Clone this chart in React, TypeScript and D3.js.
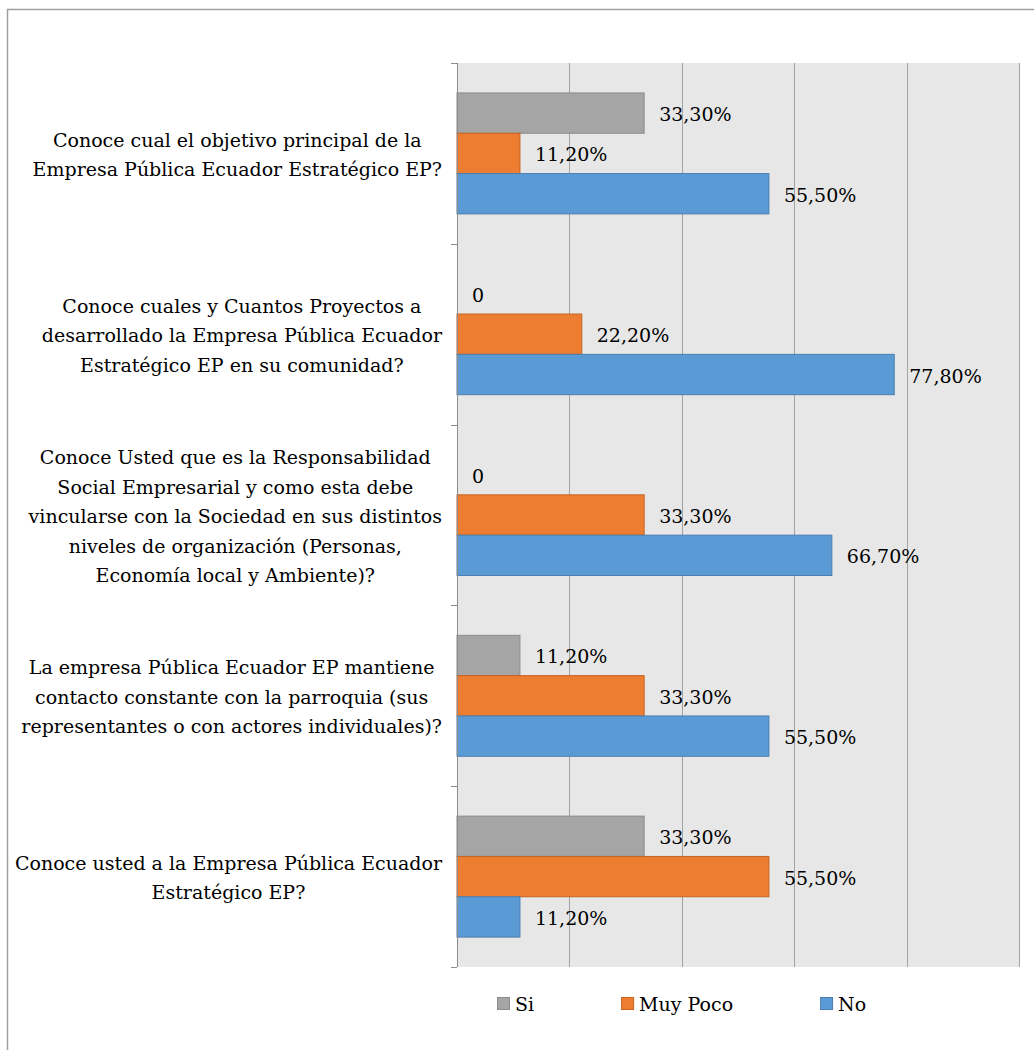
import React, { useEffect, useRef } from 'react';
import * as d3 from 'd3';

const categories = [
  'Conoce cual el objetivo principal de la\nEmpresa Pública Ecuador Estratégico EP?',
  'Conoce cuales y Cuantos Proyectos a\ndesarrollado la Empresa Pública Ecuador\nEstratégico EP en su comunidad?',
  'Conoce Usted que es la Responsabilidad\nSocial Empresarial y como esta debe\nvincularse con la Sociedad en sus distintos\nniveles de organización (Personas,\nEconomía local y Ambiente)?',
  'La empresa Pública Ecuador EP mantiene\ncontacto constante con la parroquia (sus\nrepresentantes o con actores individuales)?',
  'Conoce usted a la Empresa Pública Ecuador\nEstratégico EP?',
];

const seriesNames = ['Si', 'Muy Poco', 'No'];
const siValues = [0.333, 0, 0, 0.112, 0.333];
const muyPocoValues = [0.112, 0.222, 0.333, 0.333, 0.555];
const noValues = [0.555, 0.778, 0.667, 0.555, 0.112];
const gridTicks = [0.2, 0.4, 0.6, 0.8, 1.0];

const fills = ['#A5A5A5', '#ED7D31', '#5B9BD5'];
const strokes = ['#8C8C8C', '#C5631F', '#4A7EB0'];

const FONT = "'DejaVu Serif', serif";
const FS = '19px';

export default function App() {
  const svgRef = useRef<SVGSVGElement>(null);

  useEffect(() => {
    if (!svgRef.current) return;
    const svg = d3.select(svgRef.current);
    svg.selectAll('*').remove();

    const plot = { left: 457, right: 1019, top: 63, bottom: 967 };
    const seriesValues = [siValues, muyPocoValues, noValues];

    const x = d3.scaleLinear().domain([0, 1]).range([plot.left, plot.right]);
    const y0 = d3.scaleBand<number>()
      .domain(d3.range(categories.length))
      .range([plot.top, plot.bottom])
      .paddingInner(0.331)
      .paddingOuter(0.1655);
    const y1 = d3.scaleBand<number>()
      .domain(d3.range(seriesNames.length))
      .range([0, y0.bandwidth()]);

    // outer frame
    svg.append('rect')
      .attr('x', 7.5).attr('y', 9.5)
      .attr('width', 1200).attr('height', 1200)
      .attr('fill', '#fff')
      .attr('stroke', '#9E9E9E')
      .attr('stroke-width', 1.5);

    // plot background
    svg.append('rect')
      .attr('x', plot.left).attr('y', plot.top)
      .attr('width', plot.right - plot.left + 1)
      .attr('height', plot.bottom - plot.top)
      .attr('fill', '#E7E7E7');

    // vertical gridlines
    svg.append('g')
      .selectAll('line')
      .data(gridTicks)
      .join('line')
      .attr('x1', d => Math.round(x(d)) + 0.5)
      .attr('x2', d => Math.round(x(d)) + 0.5)
      .attr('y1', plot.top)
      .attr('y2', plot.bottom)
      .attr('stroke', '#A3A3A3')
      .attr('stroke-width', 1);

    // bars
    const groups = svg.append('g')
      .selectAll('g')
      .data(categories.map((_, i) => i))
      .join('g')
      .attr('transform', i => `translate(0,${y0(i)})`);

    groups.selectAll('rect')
      .data(i => seriesValues.map((vals, s) => ({ s, v: vals[i] })))
      .join('rect')
      .filter(d => d.v > 0)
      .attr('x', x(0))
      .attr('y', d => y1(d.s)!)
      .attr('width', d => x(d.v) - x(0))
      .attr('height', y1.bandwidth())
      .attr('fill', d => fills[d.s])
      .attr('stroke', d => strokes[d.s])
      .attr('stroke-width', 1);

    // data labels
    const fmt = (v: number) => (v === 0 ? '0' : (v * 100).toFixed(2).replace('.', ',') + '%');
    groups.selectAll('text')
      .data(i => seriesValues.map((vals, s) => ({ s, v: vals[i] })))
      .join('text')
      .attr('x', d => x(d.v) + 15)
      .attr('y', d => y1(d.s)! + y1.bandwidth() / 2 + 8)
      .style('font-family', FONT)
      .style('font-size', FS)
      .attr('fill', '#000')
      .text(d => fmt(d.v));

    // left axis with ticks at category boundaries
    const axis = svg.append('g').attr('stroke', '#8C8C8C').attr('stroke-width', 1);
    axis.append('line')
      .attr('x1', plot.left + 0.5).attr('x2', plot.left + 0.5)
      .attr('y1', plot.top).attr('y2', plot.bottom);
    const step = y0.step();
    axis.selectAll('line.tick')
      .data(d3.range(categories.length + 1))
      .join('line')
      .attr('class', 'tick')
      .attr('x1', plot.left - 6).attr('x2', plot.left)
      .attr('y1', i => Math.round(plot.top + i * step) + 0.5)
      .attr('y2', i => Math.round(plot.top + i * step) + 0.5);

    // category labels: centered lines, block right-aligned to the axis
    const lineH = 29.5;
    const blockRight = 442;
    categories.forEach((label, i) => {
      const lines = label.split('\n');
      const cy = y0(i)! + y0.bandwidth() / 2;
      const t = svg.append('text')
        .style('font-family', FONT)
        .style('font-size', FS)
        .attr('fill', '#000')
        .attr('text-anchor', 'middle');
      const spans = lines.map((ln, k) =>
        t.append('tspan')
          .attr('y', cy + (k - (lines.length - 1) / 2) * lineH + 8)
          .text(ln)
      );
      const maxW = d3.max(spans, sp => (sp.node() as SVGTSpanElement).getComputedTextLength()) || 0;
      spans.forEach(sp => sp.attr('x', blockRight - maxW / 2));
    });

    // legend
    const legend = svg.append('g');
    let lx = 497;
    const ly = 1003;
    seriesNames.forEach((name, s) => {
      legend.append('rect')
        .attr('x', lx + 0.5).attr('y', ly - 6 + 0.5)
        .attr('width', 12).attr('height', 12)
        .attr('fill', fills[s])
        .attr('stroke', strokes[s]);
      const tx = legend.append('text')
        .attr('x', lx + 18)
        .attr('y', ly + 8)
        .style('font-family', FONT)
        .style('font-size', FS)
        .attr('fill', '#000')
        .text(name);
      const w = (tx.node() as SVGTextElement).getComputedTextLength();
      lx += 18 + w + 87;
    });
  }, []);

  return (
    <svg
      ref={svgRef}
      width={1034}
      height={1050}
      style={{ position: 'absolute', left: 0, top: 0, background: '#fff' }}
    />
  );
}
